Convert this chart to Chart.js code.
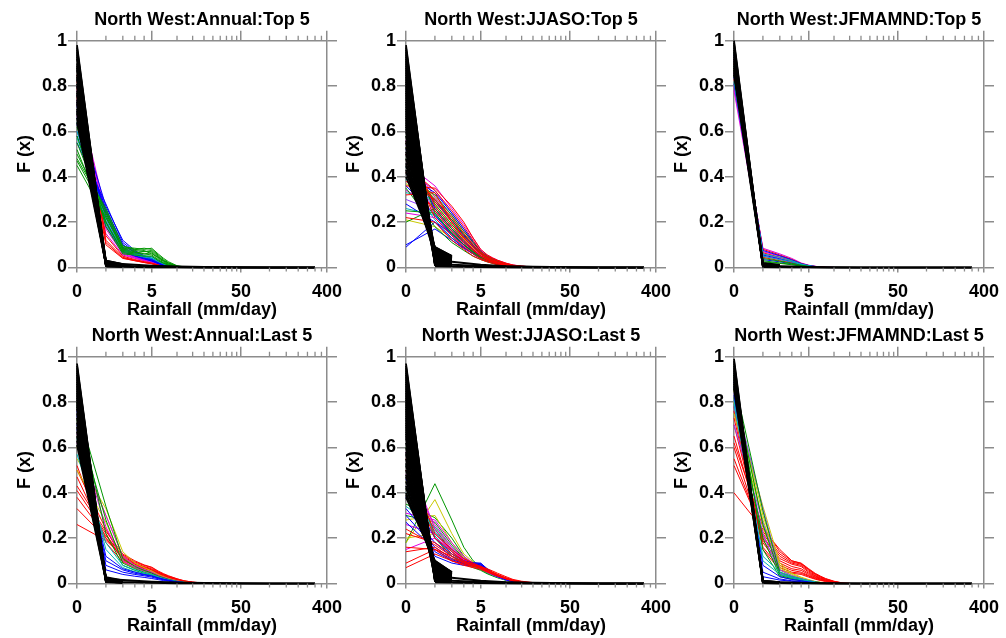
<!DOCTYPE html>
<html>
<head>
  <meta charset="UTF-8">
  <title>North West rainfall F(x)</title>
  <script src="https://cdn.jsdelivr.net/npm/chart.js"></script>
  <style>
    body { margin: 0; background: #fff; }
    #wrap { position: relative; width: 1006px; height: 638px; overflow: hidden; }
    #wrap canvas { position: absolute; }
  </style>
</head>
<body>
  <div id="wrap"></div>

  <script>
    // rainfall bins (mm/day) the curves are sampled at
    const rainBins = [0, 1, 2, 3, 4, 5, 6, 7, 8, 10, 12, 15, 20, 30];
    const tailBins = [1, 2, 3, 5, 10, 20, 50, 100, 200, 300];
    const xMajor = [0, 5, 50, 400];
    const xMinor = [1, 2, 3, 4, 10, 15, 20, 25, 30, 35, 40, 45, 100, 150, 200, 250, 300, 350];

    // ---- Annual : Top 5 ----
    const annTopBlack0 = [0.98,0.97,0.96,0.95,0.94,0.93,0.92,0.9,0.89,0.88,0.87,0.85,0.84,0.83,0.81,0.8,0.78,0.77,0.76,0.74,0.73,0.72,0.7,0.69,0.68,0.66,0.64];
    const annTopBlack1 = [0.012,0.02,0.015,0.008,0.025,0.01,0.015,0.03,0.01,0.02,0.013,0.006,0.028,0.018,0.012,0.025,0.009,0.02,0.014,0.015,0.03,0.01,0.022,0.016,0.012,0.02,0.014];
    const annTopBlack2 = [0.006,0.01,0.008,0.004,0.012,0.005,0.008,0.015,0.005,0.01,0.007,0.003,0.014,0.009,0.006,0.013,0.005,0.01,0.007,0.008,0.015,0.006,0.011,0.008,0.006,0.01,0.007];
    const annTopTail = [
      [0.02,0.015,0.012,0.008,0.004,0.002,0.001,0.0005,0.0003,0.0002],
      [0.01,0.008,0.006,0.004,0.002,0.001,0.0005,0.0003,0.0002,0.0001],
      [0.004,0.003,0.002,0.0015,0.001,0.0005,0.0003,0.0002,0.0001,0]
    ];
    const annTopGreen = [
      [0.45,0.22,0.09,0.085,0.08,0.085,0.06,0.04,0.025,0.008,0.003,0.001],
      [0.47,0.24,0.085,0.08,0.085,0.08,0.055,0.035,0.02,0.006,0.002,0.001],
      [0.5,0.25,0.08,0.075,0.07,0.075,0.05,0.03,0.018,0.005,0.002],
      [0.52,0.2,0.07,0.065,0.07,0.07,0.045,0.028,0.015,0.004,0.002],
      [0.55,0.23,0.075,0.07,0.06,0.065,0.04,0.025,0.012,0.004,0.001],
      [0.48,0.26,0.095,0.08,0.075,0.06,0.045,0.03,0.02,0.006,0.002],
      [0.58,0.2,0.065,0.06,0.06,0.055,0.035,0.02,0.01,0.003,0.001],
      [0.62,0.18,0.06,0.055,0.05,0.05,0.03,0.018,0.01,0.003]
    ];
    const annTopBlue = [
      [0.55,0.28,0.11,0.07,0.05,0.04,0.025,0.015,0.009,0.003],
      [0.6,0.26,0.1,0.065,0.048,0.036,0.022,0.013,0.008,0.003],
      [0.63,0.24,0.09,0.06,0.045,0.034,0.02,0.012,0.007,0.002],
      [0.66,0.22,0.085,0.055,0.042,0.032,0.019,0.011,0.007,0.002],
      [0.69,0.27,0.12,0.075,0.052,0.04,0.024,0.014,0.009,0.003],
      [0.71,0.2,0.08,0.052,0.04,0.03,0.018,0.01,0.006,0.002],
      [0.58,0.25,0.1,0.068,0.05,0.038,0.023,0.014,0.008,0.003],
      [0.73,0.18,0.07,0.05,0.038,0.028,0.017,0.01,0.006,0.002]
    ];
    const annTopMagenta = [
      [0.8,0.2,0.07,0.048,0.035,0.027,0.016,0.01,0.006,0.002],
      [0.78,0.24,0.08,0.05,0.036,0.028,0.017,0.01,0.006,0.002],
      [0.76,0.17,0.06,0.042,0.032,0.024,0.015,0.009,0.005,0.002],
      [0.74,0.22,0.075,0.047,0.034,0.026,0.016,0.01,0.006,0.002],
      [0.72,0.15,0.055,0.04,0.03,0.022,0.014,0.008,0.005,0.002],
      [0.67,0.19,0.065,0.045,0.033,0.025,0.015,0.009,0.005,0.002]
    ];
    const annTopCyan = [
      [0.6,0.21,0.075,0.06,0.05,0.045,0.03,0.018,0.01,0.003],
      [0.64,0.19,0.07,0.055,0.046,0.04,0.026,0.015,0.009,0.003],
      [0.57,0.23,0.08,0.062,0.052,0.048,0.032,0.02,0.011,0.003]
    ];
    const annTopRed = [
      [0.82,0.12,0.045,0.032,0.024,0.018,0.011,0.007,0.004,0.001],
      [0.79,0.14,0.05,0.035,0.026,0.02,0.012,0.007,0.004,0.001],
      [0.75,0.1,0.04,0.03,0.022,0.016,0.01,0.006,0.003,0.001],
      [0.85,0.11,0.042,0.03,0.022,0.017,0.01,0.006,0.003,0.001]
    ];

    // ---- JJASO : Top 5 ----
    const jjasoTopBlack0 = [0.98,0.97,0.96,0.95,0.94,0.93,0.92,0.91,0.9,0.89,0.88,0.87,0.86,0.85,0.84,0.83,0.82,0.81,0.8,0.79,0.78,0.77,0.76,0.75,0.74,0.73,0.72,0.71,0.7,0.69,0.68,0.67,0.66,0.65,0.64,0.63,0.62,0.61,0.6,0.58,0.56,0.55,0.53,0.51,0.5,0.48,0.46,0.45,0.43,0.42,0.4];
    const jjasoTopBlack1 = [0.01,0.02,0.015,0.03,0.012,0.025,0.04,0.018,0.03,0.05,0.022,0.035,0.06,0.028,0.045,0.02,0.055,0.07,0.035,0.05,0.015,0.065,0.03,0.08,0.04,0.025,0.06,0.045,0.07,0.02,0.05,0.035,0.075,0.04,0.06,0.03,0.085,0.05,0.065,0.07,0.07,0.08,0.06,0.085,0.08,0.075,0.09,0.06,0.08,0.085,0.09];
    const jjasoTopBlack2 = [0.008,0.012,0.01,0.018,0.008,0.015,0.022,0.012,0.018,0.028,0.014,0.02,0.032,0.016,0.025,0.012,0.03,0.038,0.02,0.028,0.01,0.035,0.018,0.042,0.024,0.015,0.032,0.025,0.038,0.012,0.028,0.02,0.04,0.024,0.034,0.018,0.045,0.028,0.036,0.04,0.04,0.045,0.035,0.05,0.045,0.045,0.05,0.035,0.045,0.05,0.05];
    const jjasoTopTail = [
      [0.03,0.025,0.02,0.012,0.006,0.003,0.001,0.0005,0.0002,0.0001],
      [0.015,0.012,0.01,0.007,0.004,0.002,0.0008,0.0003,0.0001,0],
      [0.005,0.004,0.003,0.002,0.001,0.0005,0.0002,0.0001,0,0]
    ];
    const jjasoTopRed = [
      [0.45,0.34,0.25,0.18,0.12,0.07,0.05,0.04,0.03,0.018,0.01,0.006,0.002],
      [0.38,0.3,0.22,0.15,0.1,0.065,0.045,0.035,0.025,0.014,0.008,0.004,0.001],
      [0.55,0.27,0.18,0.12,0.08,0.05,0.035,0.026,0.02,0.01,0.006,0.003],
      [0.32,0.33,0.2,0.13,0.09,0.06,0.04,0.03,0.022,0.012,0.007,0.003],
      [0.5,0.22,0.14,0.09,0.06,0.04,0.03,0.022,0.016,0.008,0.005,0.002],
      [0.42,0.25,0.16,0.11,0.075,0.05,0.035,0.025,0.018,0.01,0.005,0.002],
      [0.22,0.2,0.12,0.08,0.05,0.035,0.025,0.018,0.012,0.006,0.003],
      [0.36,0.35,0.27,0.2,0.13,0.08,0.056,0.042,0.032,0.019,0.011,0.006,0.002],
      [0.47,0.29,0.2,0.135,0.09,0.058,0.041,0.031,0.023,0.012,0.007,0.003]
    ];
    const jjasoTopGreen = [
      [0.4,0.32,0.23,0.16,0.11,0.07,0.05,0.038,0.028,0.016,0.009,0.005,0.002],
      [0.48,0.28,0.19,0.13,0.09,0.06,0.042,0.03,0.022,0.012,0.007,0.003],
      [0.25,0.24,0.15,0.1,0.07,0.045,0.032,0.024,0.018,0.009,0.005,0.002],
      [0.58,0.24,0.15,0.1,0.065,0.042,0.03,0.022,0.016,0.008,0.004,0.002],
      [0.35,0.18,0.11,0.075,0.05,0.035,0.025,0.018,0.012,0.006,0.003],
      [0.2,0.26,0.17,0.11,0.075,0.05,0.036,0.027,0.02,0.01,0.005,0.002],
      [0.44,0.3,0.21,0.145,0.098,0.064,0.045,0.034,0.025,0.014,0.008,0.003]
    ];
    const jjasoTopBlue = [
      [0.09,0.2,0.15,0.1,0.07,0.045,0.032,0.024,0.018,0.009,0.005,0.002],
      [0.1,0.17,0.12,0.085,0.06,0.04,0.028,0.02,0.015,0.008,0.004],
      [0.44,0.29,0.21,0.14,0.095,0.062,0.044,0.033,0.024,0.013,0.007,0.003],
      [0.52,0.26,0.17,0.115,0.078,0.05,0.036,0.027,0.02,0.01,0.006,0.002],
      [0.36,0.23,0.145,0.1,0.068,0.044,0.031,0.023,0.017,0.009,0.005,0.002],
      [0.28,0.2,0.13,0.088,0.06,0.04,0.028,0.02,0.015,0.008,0.004],
      [0.41,0.33,0.24,0.17,0.115,0.072,0.051,0.038,0.028,0.016,0.009,0.004]
    ];
    const jjasoTopMagenta = [
      [0.46,0.36,0.26,0.19,0.13,0.078,0.055,0.042,0.032,0.019,0.011,0.006,0.002],
      [0.4,0.3,0.2,0.14,0.095,0.062,0.044,0.033,0.024,0.013,0.007,0.003],
      [0.24,0.22,0.14,0.095,0.064,0.042,0.03,0.022,0.016,0.008,0.004],
      [0.56,0.25,0.16,0.105,0.07,0.046,0.033,0.025,0.018,0.009,0.005,0.002],
      [0.34,0.27,0.18,0.12,0.082,0.053,0.038,0.028,0.02,0.011,0.006,0.002],
      [0.5,0.31,0.23,0.16,0.105,0.068,0.048,0.036,0.027,0.015,0.008,0.004]
    ];
    const jjasoTopYellow = [
      [0.21,0.18,0.13,0.09,0.062,0.042,0.03,0.022,0.016,0.008,0.004],
      [0.43,0.31,0.22,0.15,0.1,0.066,0.047,0.035,0.026,0.014,0.008,0.003],
      [0.37,0.26,0.17,0.115,0.078,0.05,0.036,0.027,0.02,0.01,0.005,0.002],
      [0.53,0.28,0.19,0.125,0.085,0.055,0.039,0.029,0.021,0.011,0.006,0.002]
    ];
    const jjasoTopCyan = [
      [0.26,0.23,0.16,0.1,0.07,0.046,0.033,0.025,0.018,0.009,0.005,0.002],
      [0.47,0.27,0.18,0.12,0.08,0.052,0.037,0.028,0.02,0.011,0.006,0.002],
      [0.39,0.21,0.13,0.09,0.06,0.04,0.028,0.02,0.015,0.008,0.004],
      [0.33,0.3,0.22,0.15,0.1,0.064,0.045,0.034,0.025,0.014,0.008,0.003]
    ];
    const jjasoTopPurple = [
      [0.43,0.34,0.24,0.17,0.11,0.07,0.05,0.037,0.027,0.015,0.008,0.004],
      [0.3,0.25,0.17,0.115,0.078,0.05,0.036,0.027,0.02,0.01,0.006,0.002],
      [0.54,0.23,0.15,0.1,0.068,0.045,0.032,0.024,0.018,0.009,0.005]
    ];

    // ---- JFMAMND : Top 5 ----
    const jfmTopBlack0 = [1.0,0.99,0.98,0.97,0.96,0.95,0.94,0.93,0.92,0.91,0.9,0.89,0.88,0.87,0.86,0.85];
    const jfmTopBlack1 = [0.002,0.005,0.01,0.004,0.015,0.008,0.02,0.006,0.012,0.003,0.018,0.009,0.01,0.016,0.014,0.007];
    const jfmTopBlack2 = [0.001,0.003,0.006,0.002,0.008,0.005,0.012,0.004,0.007,0.002,0.01,0.005,0.006,0.009,0.008,0.004];
    const jfmTopTail = [
      [0.01,0.006,0.004,0.002,0.001,0.0005,0.0002,0.0001,0,0],
      [0.003,0.002,0.0015,0.001,0.0005,0.0002,0.0001,0,0,0]
    ];
    const jfmTopMagenta = [
      [0.8,0.085,0.06,0.04,0.02,0.01,0.005,0.003,0.002,0.001],
      [0.86,0.07,0.05,0.032,0.016,0.008,0.004,0.002,0.001],
      [0.92,0.05,0.035,0.022,0.012,0.006,0.003,0.002],
      [0.78,0.06,0.04,0.026,0.014,0.007,0.004,0.002]
    ];
    const jfmTopRed = [
      [0.83,0.08,0.055,0.036,0.018,0.009,0.005,0.003,0.001],
      [0.9,0.045,0.03,0.02,0.01,0.005,0.003,0.001],
      [0.88,0.065,0.045,0.03,0.015,0.008,0.004,0.002]
    ];
    const jfmTopBlue = [
      [0.84,0.075,0.052,0.034,0.017,0.009,0.005,0.002],
      [0.94,0.035,0.025,0.016,0.008,0.004,0.002],
      [0.81,0.055,0.038,0.025,0.013,0.007,0.003]
    ];
    const jfmTopGreen = [
      [0.87,0.04,0.028,0.018,0.01,0.005,0.003],
      [0.85,0.03,0.02,0.014,0.008,0.004,0.002],
      [0.95,0.025,0.018,0.012,0.006,0.003]
    ];
    const jfmTopCyan = [
      [0.89,0.06,0.045,0.03,0.015,0.008,0.004,0.002],
      [0.82,0.05,0.035,0.025,0.013,0.006,0.003]
    ];

    // ---- Annual : Last 5 ----
    const annLastBlack0 = [0.97,0.96,0.95,0.94,0.93,0.92,0.91,0.9,0.89,0.88,0.87,0.86,0.85,0.84,0.83,0.82,0.81,0.8,0.79,0.78,0.77,0.75,0.73,0.71,0.69,0.67,0.65,0.63,0.61];
    const annLastBlack1 = [0.01,0.015,0.02,0.012,0.008,0.018,0.015,0.025,0.01,0.012,0.02,0.018,0.006,0.015,0.022,0.01,0.012,0.016,0.02,0.028,0.012,0.02,0.008,0.018,0.025,0.014,0.02,0.015,0.012];
    const annLastBlack2 = [0.005,0.008,0.01,0.006,0.004,0.009,0.008,0.012,0.005,0.006,0.01,0.009,0.003,0.008,0.011,0.005,0.006,0.008,0.01,0.014,0.006,0.01,0.004,0.009,0.012,0.007,0.01,0.008,0.006];
    const annLastTail = [
      [0.02,0.015,0.012,0.008,0.004,0.002,0.001,0.0005,0.0003,0.0002],
      [0.008,0.006,0.005,0.003,0.0015,0.0008,0.0004,0.0002,0.0001,0]
    ];
    const annLastRed = [
      [0.26,0.19,0.12,0.09,0.075,0.065,0.05,0.04,0.032,0.02,0.012,0.006,0.002],
      [0.33,0.2,0.11,0.085,0.07,0.06,0.045,0.036,0.028,0.017,0.01,0.005,0.002],
      [0.38,0.21,0.125,0.095,0.08,0.07,0.052,0.04,0.03,0.018,0.01,0.005,0.002],
      [0.41,0.22,0.1,0.08,0.068,0.058,0.043,0.033,0.025,0.014,0.008,0.004],
      [0.43,0.23,0.13,0.1,0.082,0.072,0.055,0.043,0.034,0.021,0.012,0.006,0.002],
      [0.47,0.2,0.115,0.088,0.072,0.062,0.047,0.037,0.028,0.016,0.009,0.004],
      [0.5,0.24,0.105,0.078,0.065,0.055,0.041,0.031,0.024,0.014,0.008,0.004],
      [0.52,0.18,0.095,0.07,0.058,0.05,0.037,0.028,0.021,0.012,0.007,0.003]
    ];
    const annLastYellow = [
      [0.55,0.33,0.14,0.09,0.07,0.055,0.04,0.03,0.022,0.012,0.006,0.003],
      [0.6,0.3,0.12,0.08,0.06,0.048,0.035,0.026,0.019,0.01,0.005,0.002],
      [0.5,0.27,0.1,0.07,0.055,0.045,0.032,0.024,0.017,0.009,0.005]
    ];
    const annLastGreen = [
      [0.78,0.34,0.11,0.075,0.058,0.046,0.033,0.025,0.018,0.01,0.005],
      [0.72,0.28,0.09,0.065,0.05,0.04,0.029,0.022,0.016,0.008,0.004],
      [0.8,0.22,0.08,0.058,0.045,0.036,0.026,0.019,0.014,0.007,0.003]
    ];
    const annLastMagenta = [
      [0.62,0.3,0.12,0.08,0.062,0.05,0.036,0.027,0.02,0.011,0.006],
      [0.66,0.25,0.1,0.07,0.055,0.044,0.032,0.024,0.017,0.009,0.005]
    ];
    const annLastBlue = [
      [0.7,0.1,0.06,0.045,0.038,0.032,0.024,0.018,0.013,0.007,0.004],
      [0.74,0.08,0.05,0.04,0.034,0.028,0.021,0.016,0.012,0.006,0.003],
      [0.68,0.12,0.065,0.05,0.04,0.034,0.025,0.019,0.014,0.007,0.004],
      [0.76,0.06,0.04,0.032,0.027,0.022,0.017,0.013,0.01,0.005,0.002]
    ];
    const annLastCyan = [
      [0.64,0.15,0.07,0.052,0.042,0.035,0.026,0.02,0.014,0.008,0.004],
      [0.57,0.18,0.08,0.06,0.048,0.04,0.03,0.022,0.016,0.009,0.005]
    ];

    // ---- JJASO : Last 5 ----
    const jjasoLastBlack0 = [0.97,0.96,0.95,0.94,0.93,0.92,0.91,0.9,0.89,0.88,0.87,0.86,0.85,0.84,0.83,0.82,0.81,0.8,0.79,0.78,0.77,0.76,0.75,0.74,0.73,0.72,0.71,0.7,0.69,0.68,0.67,0.66,0.65,0.64,0.62,0.6,0.58,0.57,0.55,0.53,0.52,0.5,0.48,0.47,0.45,0.43,0.42,0.4,0.39,0.38];
    const jjasoLastBlack1 = [0.01,0.02,0.015,0.03,0.012,0.025,0.04,0.018,0.03,0.05,0.022,0.035,0.06,0.028,0.045,0.02,0.055,0.07,0.035,0.05,0.015,0.065,0.03,0.08,0.04,0.025,0.06,0.045,0.07,0.02,0.05,0.035,0.075,0.04,0.06,0.03,0.085,0.075,0.05,0.08,0.065,0.065,0.09,0.07,0.07,0.085,0.08,0.095,0.1,0.1];
    const jjasoLastBlack2 = [0.008,0.012,0.01,0.018,0.008,0.015,0.022,0.012,0.018,0.028,0.014,0.02,0.032,0.016,0.025,0.012,0.03,0.038,0.02,0.028,0.01,0.035,0.018,0.042,0.024,0.015,0.032,0.025,0.038,0.012,0.028,0.02,0.04,0.024,0.034,0.018,0.045,0.04,0.028,0.045,0.036,0.036,0.05,0.04,0.04,0.045,0.045,0.05,0.05,0.05];
    const jjasoLastTail = [
      [0.03,0.025,0.02,0.012,0.006,0.003,0.001,0.0005,0.0002,0.0001],
      [0.015,0.012,0.01,0.007,0.004,0.002,0.0008,0.0003,0.0001,0],
      [0.005,0.004,0.003,0.002,0.001,0.0005,0.0002,0.0001,0,0]
    ];
    const jjasoLastRed = [
      [0.07,0.13,0.1,0.085,0.075,0.07,0.06,0.05,0.04,0.025,0.015,0.008,0.003],
      [0.09,0.15,0.12,0.095,0.08,0.075,0.065,0.055,0.045,0.03,0.018,0.01,0.004],
      [0.14,0.16,0.11,0.09,0.078,0.068,0.055,0.045,0.036,0.022,0.013,0.007,0.002],
      [0.16,0.15,0.1,0.08,0.07,0.062,0.05,0.04,0.032,0.02,0.012,0.006,0.002],
      [0.22,0.18,0.13,0.1,0.085,0.072,0.058,0.047,0.038,0.024,0.014,0.007,0.002],
      [0.24,0.17,0.12,0.092,0.078,0.066,0.053,0.043,0.034,0.021,0.012,0.006],
      [0.5,0.2,0.14,0.1,0.085,0.07,0.055,0.045,0.035,0.022,0.013,0.006],
      [0.55,0.22,0.15,0.11,0.09,0.075,0.06,0.048,0.038,0.024,0.014,0.007]
    ];
    const jjasoLastGreen = [
      [0.18,0.44,0.28,0.16,0.1,0.075,0.055,0.042,0.032,0.018,0.01,0.004],
      [0.3,0.27,0.17,0.11,0.085,0.07,0.05,0.04,0.03,0.017,0.009,0.004],
      [0.42,0.24,0.14,0.095,0.075,0.062,0.046,0.035,0.027,0.015,0.008,0.003],
      [0.6,0.2,0.12,0.085,0.07,0.058,0.043,0.033,0.025,0.014,0.007,0.003],
      [0.35,0.29,0.2,0.12,0.08,0.065,0.048,0.037,0.028,0.016,0.008,0.003]
    ];
    const jjasoLastYellow = [
      [0.18,0.37,0.22,0.13,0.095,0.08,0.06,0.045,0.035,0.02,0.011,0.005],
      [0.28,0.3,0.18,0.115,0.09,0.088,0.065,0.05,0.038,0.022,0.012,0.005],
      [0.45,0.25,0.15,0.1,0.085,0.082,0.06,0.046,0.035,0.02,0.011,0.005],
      [0.2,0.22,0.14,0.095,0.08,0.075,0.055,0.042,0.032,0.018,0.01,0.004]
    ];
    const jjasoLastBlue = [
      [0.3,0.16,0.11,0.09,0.09,0.09,0.065,0.048,0.036,0.02,0.011,0.005],
      [0.33,0.18,0.12,0.095,0.088,0.085,0.062,0.046,0.034,0.019,0.01,0.004],
      [0.43,0.2,0.13,0.1,0.092,0.088,0.064,0.047,0.035,0.019,0.01,0.004],
      [0.38,0.14,0.1,0.085,0.082,0.08,0.058,0.043,0.032,0.018,0.009,0.004],
      [0.27,0.15,0.105,0.088,0.085,0.083,0.06,0.045,0.033,0.018,0.01,0.004],
      [0.46,0.12,0.09,0.08,0.078,0.076,0.055,0.04,0.03,0.016,0.008,0.003]
    ];
    const jjasoLastMagenta = [
      [0.31,0.28,0.18,0.12,0.09,0.075,0.055,0.042,0.032,0.018,0.01,0.004],
      [0.58,0.24,0.15,0.1,0.08,0.068,0.05,0.038,0.029,0.016,0.009,0.004],
      [0.26,0.22,0.14,0.1,0.082,0.07,0.052,0.04,0.03,0.017,0.009,0.004],
      [0.48,0.26,0.16,0.11,0.085,0.072,0.053,0.04,0.031,0.017,0.009,0.004],
      [0.15,0.2,0.15,0.105,0.085,0.072,0.054,0.041,0.031,0.017,0.009,0.004]
    ];
    const jjasoLastCyan = [
      [0.34,0.25,0.16,0.105,0.082,0.07,0.052,0.04,0.03,0.017,0.009,0.004],
      [0.52,0.21,0.13,0.09,0.075,0.064,0.048,0.037,0.028,0.015,0.008,0.003],
      [0.4,0.23,0.14,0.095,0.078,0.066,0.049,0.038,0.029,0.016,0.008,0.003]
    ];

    // ---- JFMAMND : Last 5 ----
    const jfmLastBlack0 = [0.99,0.98,0.97,0.96,0.95,0.94,0.93,0.92,0.91,0.9,0.89,0.88,0.87,0.86];
    const jfmLastBlack1 = [0.002,0.006,0.004,0.01,0.003,0.008,0.012,0.005,0.009,0.002,0.007,0.011,0.004,0.006];
    const jfmLastBlack2 = [0.001,0.003,0.002,0.005,0.002,0.004,0.006,0.003,0.005,0.001,0.004,0.006,0.002,0.003];
    const jfmLastTail = [
      [0.01,0.006,0.004,0.002,0.001,0.0005,0.0002,0.0001,0,0],
      [0.003,0.002,0.0015,0.001,0.0005,0.0002,0.0001,0,0,0]
    ];
    const jfmLastRed = [
      [0.4,0.24,0.15,0.1,0.09,0.065,0.045,0.032,0.022,0.01,0.004,0.001],
      [0.52,0.23,0.13,0.095,0.085,0.06,0.04,0.028,0.019,0.008,0.003],
      [0.55,0.22,0.12,0.09,0.08,0.055,0.036,0.025,0.017,0.007,0.003],
      [0.6,0.2,0.11,0.085,0.075,0.05,0.033,0.023,0.015,0.006,0.002],
      [0.62,0.25,0.14,0.1,0.088,0.062,0.042,0.03,0.02,0.009,0.003],
      [0.65,0.21,0.1,0.075,0.065,0.045,0.03,0.021,0.014,0.006,0.002],
      [0.7,0.19,0.09,0.065,0.058,0.04,0.027,0.019,0.013,0.005,0.002],
      [0.73,0.18,0.08,0.058,0.05,0.035,0.024,0.017,0.011,0.005,0.002],
      [0.76,0.16,0.07,0.05,0.045,0.032,0.021,0.015,0.01,0.004],
      [0.78,0.15,0.06,0.045,0.04,0.028,0.019,0.013,0.009,0.004]
    ];
    const jfmLastYellow = [
      [0.85,0.3,0.08,0.04,0.025,0.015,0.008,0.005,0.003],
      [0.8,0.34,0.09,0.045,0.028,0.017,0.009,0.005,0.003],
      [0.88,0.25,0.06,0.03,0.02,0.012,0.007,0.004],
      [0.75,0.28,0.07,0.035,0.022,0.014,0.008,0.004]
    ];
    const jfmLastGreen = [
      [0.9,0.32,0.05,0.03,0.02,0.012,0.007,0.004],
      [0.86,0.26,0.04,0.025,0.016,0.01,0.006,0.003],
      [0.82,0.2,0.035,0.022,0.014,0.009,0.005],
      [0.92,0.15,0.03,0.018,0.012,0.007,0.004]
    ];
    const jfmLastPurple = [
      [0.84,0.33,0.06,0.035,0.022,0.013,0.008,0.004],
      [0.7,0.27,0.05,0.03,0.02,0.012,0.007],
      [0.78,0.22,0.045,0.028,0.018,0.011,0.006]
    ];
    const jfmLastBlue = [
      [0.87,0.05,0.02,0.012,0.008,0.005,0.003],
      [0.83,0.08,0.03,0.018,0.012,0.007,0.004],
      [0.89,0.03,0.015,0.01,0.006,0.004]
    ];
    const jfmLastCyan = [
      [0.81,0.1,0.04,0.025,0.016,0.01,0.006],
      [0.79,0.12,0.05,0.03,0.02,0.012,0.007]
    ];

    const FONT = "'Liberation Sans', Arial, Helvetica, sans-serif";
    const AXIS = '#8c8c8c';
    const COLOURS = {
      red: '#ff0000', green: '#009600', blue: '#0000ff', magenta: '#e000e0',
      yellow: '#c8c800', cyan: '#00b4b4', purple: '#9040ff'
    };
    const lx = v => Math.log10(v + 1);   // axis runs on log10(rain + 1)

    const blackFan = (f0, f1, f2) => f0.map((v, i) => [v, f1[i], f2[i]]);

    const panels = [
      { left: 0, top: 0, title: 'North West:Annual:Top 5',
        black: blackFan(annTopBlack0, annTopBlack1, annTopBlack2), tail: annTopTail,
        colour: [[annTopGreen, 'green'], [annTopCyan, 'cyan'], [annTopBlue, 'blue'], [annTopRed, 'red'], [annTopMagenta, 'magenta']] },
      { left: 329, top: 0, title: 'North West:JJASO:Top 5',
        black: blackFan(jjasoTopBlack0, jjasoTopBlack1, jjasoTopBlack2), tail: jjasoTopTail,
        colour: [[jjasoTopRed, 'red'], [jjasoTopGreen, 'green'], [jjasoTopBlue, 'blue'], [jjasoTopMagenta, 'magenta'], [jjasoTopYellow, 'yellow'], [jjasoTopCyan, 'cyan'], [jjasoTopPurple, 'purple']] },
      { left: 657, top: 0, title: 'North West:JFMAMND:Top 5',
        black: blackFan(jfmTopBlack0, jfmTopBlack1, jfmTopBlack2), tail: jfmTopTail,
        colour: [[jfmTopGreen, 'green'], [jfmTopCyan, 'cyan'], [jfmTopBlue, 'blue'], [jfmTopRed, 'red'], [jfmTopMagenta, 'magenta']] },
      { left: 0, top: 316, title: 'North West:Annual:Last 5',
        black: blackFan(annLastBlack0, annLastBlack1, annLastBlack2), tail: annLastTail,
        colour: [[annLastBlue, 'blue'], [annLastCyan, 'cyan'], [annLastGreen, 'green'], [annLastMagenta, 'magenta'], [annLastYellow, 'yellow'], [annLastRed, 'red']] },
      { left: 329, top: 316, title: 'North West:JJASO:Last 5',
        black: blackFan(jjasoLastBlack0, jjasoLastBlack1, jjasoLastBlack2), tail: jjasoLastTail,
        colour: [[jjasoLastRed, 'red'], [jjasoLastBlue, 'blue'], [jjasoLastMagenta, 'magenta'], [jjasoLastCyan, 'cyan'], [jjasoLastYellow, 'yellow'], [jjasoLastGreen, 'green']] },
      { left: 657, top: 316, title: 'North West:JFMAMND:Last 5',
        black: blackFan(jfmLastBlack0, jfmLastBlack1, jfmLastBlack2), tail: jfmLastTail,
        colour: [[jfmLastBlue, 'blue'], [jfmLastCyan, 'cyan'], [jfmLastGreen, 'green'], [jfmLastPurple, 'purple'], [jfmLastYellow, 'yellow'], [jfmLastRed, 'red']] }
    ];

    function lineSet(bins, rows, colour, width) {
      return rows.map(r => ({
        data: r.map((f, i) => ({ x: lx(bins[i]), y: f })),
        borderColor: colour, borderWidth: width, pointRadius: 0, fill: false, clip: false
      }));
    }

    // short minor ticks on top and bottom of the frame
    const minorTicks = {
      id: 'minorTicks',
      afterDraw(chart) {
        const { ctx, chartArea: a } = chart;
        const x = chart.scales.x;
        ctx.save();
        ctx.strokeStyle = AXIS;
        ctx.lineWidth = 1.3;
        ctx.beginPath();
        xMinor.forEach(v => {
          const px = x.getPixelForValue(lx(v));
          ctx.moveTo(px, a.top); ctx.lineTo(px, a.top - 5);
          ctx.moveTo(px, a.bottom); ctx.lineTo(px, a.bottom + 4);
        });
        ctx.stroke();
        ctx.restore();
      }
    };

    function options(title) {
      const bold = { family: FONT, size: 18, weight: 'bold' };
      const frame = { color: AXIS, width: 1.5 };
      const grid = len => ({ drawOnChartArea: false, drawTicks: true, tickLength: len, color: AXIS, lineWidth: 1.5 });
      const majors = s => { s.ticks = xMajor.map(v => ({ value: lx(v) })); };
      return {
        responsive: false, animation: false, events: [],
        layout: { padding: 0 },
        plugins: {
          legend: { display: false },
          tooltip: { enabled: false },
          title: { display: true, text: title, color: '#000', font: bold, padding: { top: 9.2, bottom: 0 } }
        },
        scales: {
          x: {
            type: 'linear', position: 'bottom', min: 0, max: lx(400),
            afterBuildTicks: majors,
            ticks: { color: '#000', font: bold, padding: 9.2, maxRotation: 0, autoSkip: false, callback: (v, i) => String(xMajor[i]) },
            grid: grid(5), border: frame,
            title: { display: true, text: 'Rainfall (mm/day)', color: '#000', font: bold, padding: { top: 0, bottom: 0.7 } },
            afterFit: s => { s.height = 54.5; }
          },
          xt: {
            type: 'linear', position: 'top', min: 0, max: lx(400),
            afterBuildTicks: majors,
            ticks: { display: false },
            grid: grid(10), border: frame,
            afterFit: s => { s.height = 9.9; }
          },
          y: {
            position: 'left', min: 0, max: 1,
            ticks: { stepSize: 0.2, color: '#000', font: bold, padding: 1, callback: v => String(Math.round(v * 10) / 10) },
            grid: grid(9), border: frame,
            title: { display: true, text: 'F (x)', color: '#000', font: bold, padding: { top: 14.7, bottom: 0 } },
            afterFit: s => { s.width = 77; }
          },
          yr: {
            position: 'right', min: 0, max: 1,
            ticks: { display: false, stepSize: 0.2 },
            grid: grid(10), border: frame,
            afterFit: s => { s.width = 77; }
          }
        }
      };
    }

    const wrap = document.getElementById('wrap');
    panels.forEach(p => {
      const c = document.createElement('canvas');
      c.width = 404; c.height = 322;
      c.style.left = p.left + 'px';
      c.style.top = p.top + 'px';
      wrap.appendChild(c);

      // first dataset is painted last, so the black fan goes in front
      const datasets = [
        ...lineSet(tailBins, p.tail, '#000', 2),
        ...lineSet(rainBins, p.black, '#000', 1.8),
        ...p.colour.flatMap(([rows, name]) => lineSet(rainBins, rows, COLOURS[name], 1))
      ];
      new Chart(c, { type: 'line', data: { datasets }, options: options(p.title), plugins: [minorTicks] });
    });
  </script>
</body>
</html>
